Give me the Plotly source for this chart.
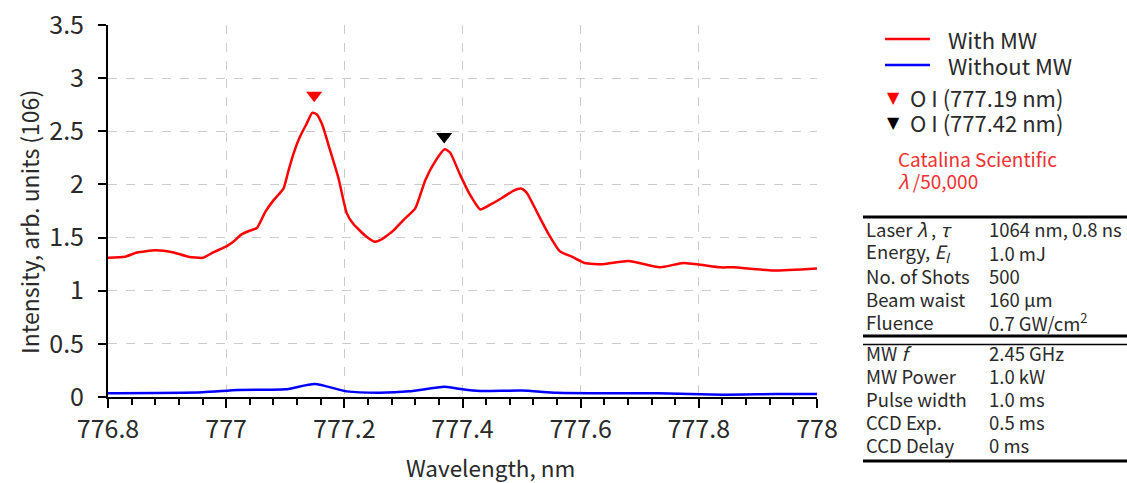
import plotly.graph_objects as go

# ---------------- data ----------------
wl_mw = [776.800, 776.829, 776.849, 776.880, 776.911, 776.936, 776.961, 776.978,
         777.001, 777.012, 777.026, 777.040, 777.052, 777.066, 777.080, 777.097,
         777.105, 777.114, 777.125, 777.136, 777.146, 777.153, 777.162, 777.176,
         777.190, 777.204, 777.215, 777.235, 777.252, 777.262, 777.283, 777.300,
         777.320, 777.337, 777.353, 777.370, 777.379, 777.396, 777.413, 777.430,
         777.447, 777.466, 777.486, 777.500, 777.509, 777.526, 777.545, 777.565,
         777.585, 777.607, 777.638, 777.681, 777.734, 777.774, 777.836, 777.858,
         777.926, 778.000]
int_mw = [1.31, 1.32, 1.36, 1.38, 1.36, 1.32, 1.31, 1.36,
          1.42, 1.46, 1.53, 1.565, 1.59, 1.74, 1.85, 1.96,
          2.12, 2.29, 2.45, 2.57, 2.675, 2.66, 2.57, 2.32,
          2.06, 1.73, 1.63, 1.52, 1.46, 1.48, 1.565, 1.665,
          1.775, 2.04, 2.21, 2.33, 2.30, 2.09, 1.90, 1.765,
          1.81, 1.87, 1.94, 1.96, 1.92, 1.74, 1.54, 1.37,
          1.32, 1.26, 1.25, 1.28, 1.22, 1.26, 1.22, 1.22,
          1.19, 1.21]

wl_nomw = [776.80, 776.96, 777.02, 777.10, 777.15, 777.204, 777.26, 777.31, 777.37,
           777.40, 777.43, 777.50, 777.56, 777.645, 777.73, 777.84, 777.93, 778.00]
int_nomw = [0.035, 0.044, 0.066, 0.072, 0.122, 0.053, 0.040, 0.053, 0.097,
            0.072, 0.056, 0.060, 0.040, 0.035, 0.035, 0.022, 0.028, 0.028]

peak1_x = [777.149]
peak1_y = [2.84]
peak2_x = [777.369]
peak2_y = [2.45]

x_ticks = [776.8, 777.0, 777.2, 777.4, 777.6, 777.8, 778.0]
x_tick_labels = ["776.8", "777", "777.2", "777.4", "777.6", "777.8", "778"]
y_ticks = [0, 0.5, 1, 1.5, 2, 2.5, 3, 3.5]
y_tick_labels = ["0", "0.5", "1", "1.5", "2", "2.5", "3", "3.5"]

legend_lines = ["With MW", "Without MW"]
legend_marks = ["O I (777.19 nm)", "O I (777.42 nm)"]

table_group1 = [("Laser <i>λ</i> , <i>τ</i>", "1064 nm, 0.8 ns"),
                ("Energy, <i>E</i><sub><i>l</i></sub>", "1.0 mJ"),
                ("No. of Shots", "500"),
                ("Beam waist", "160 μm"),
                ("Fluence", "0.7 GW/cm<sup>2</sup>")]
table_group2 = [("MW <i>f</i>", "2.45 GHz"),
                ("MW Power", "1.0 kW"),
                ("Pulse width", "1.0 ms"),
                ("CCD Exp.", "0.5 ms"),
                ("CCD Delay", "0 ms")]

# ---------------- layout geometry ----------------
W, H = 1127, 483
L, R, T, B = 108, 310, 25, 86
PW, PH = W - L - R, H - T - B
FONT = "Noto Sans CJK JP, Source Sans Pro, Liberation Sans, sans-serif"
TXT = "#2a2a2a"
RED = "#ff0000"
BLUE = "#0000ff"


def px(x):
    return (x - L) / PW


def py(y):
    return (H - B - y) / PH


fig = go.Figure()
fig.add_trace(go.Scatter(x=wl_mw, y=int_mw, mode="lines",
                         line=dict(color=RED, width=2.5, shape="spline", smoothing=0.5),
                         showlegend=False, hoverinfo="skip"))
fig.add_trace(go.Scatter(x=wl_nomw, y=int_nomw, mode="lines",
                         line=dict(color=BLUE, width=2.5, shape="spline", smoothing=0.6),
                         showlegend=False, hoverinfo="skip"))
fig.add_trace(go.Scatter(x=peak1_x, y=peak1_y, mode="markers",
                         marker=dict(symbol="triangle-down", size=14, color=RED),
                         showlegend=False, hoverinfo="skip"))
fig.add_trace(go.Scatter(x=peak2_x, y=peak2_y, mode="markers",
                         marker=dict(symbol="triangle-down", size=14, color="black"),
                         showlegend=False, hoverinfo="skip"))

shapes = []
annotations = []

# legend: lines
for i, (name, col) in enumerate(zip(legend_lines, [RED, BLUE])):
    yy = 39 + i * 26
    shapes.append(dict(type="line", xref="paper", yref="paper",
                       x0=px(885), x1=px(930), y0=py(yy), y1=py(yy),
                       line=dict(color=col, width=2.5)))
    annotations.append(dict(xref="paper", yref="paper", x=px(946), y=py(yy),
                            text=name, showarrow=False, xanchor="left", yanchor="middle",
                            font=dict(size=22, color=TXT, family=FONT)))
# legend: markers
for i, (name, col) in enumerate(zip(legend_marks, [RED, "black"])):
    yy = 97 + i * 25
    annotations.append(dict(xref="paper", yref="paper", x=px(893), y=py(yy),
                            text="▼", showarrow=False, xanchor="center", yanchor="middle",
                            font=dict(size=16, color=col, family="DejaVu Sans")))
    annotations.append(dict(xref="paper", yref="paper", x=px(908), y=py(yy),
                            text=name, showarrow=False, xanchor="left", yanchor="middle",
                            font=dict(size=22, color=TXT, family=FONT)))
annotations.append(dict(xref="paper", yref="paper", x=px(896), y=py(158),
                        text="Catalina Scientific", showarrow=False, xanchor="left",
                        yanchor="middle", font=dict(size=19, color="#f03030", family=FONT)))
annotations.append(dict(xref="paper", yref="paper", x=px(896), y=py(181),
                        text="<i>λ</i> /50,000", showarrow=False, xanchor="left",
                        yanchor="middle", font=dict(size=19, color="#f03030", family=FONT)))

# table
for yy, wdt in [(217, 3), (336, 3), (344.5, 1.5), (461, 3)]:
    shapes.append(dict(type="line", xref="paper", yref="paper",
                       x0=px(863), x1=px(1127), y0=py(yy), y1=py(yy),
                       line=dict(color="black", width=wdt)))
rows_y1 = [229, 252.5, 276, 299, 322]
rows_y2 = [353, 376, 399, 422, 445]
for rows, ys in [(table_group1, rows_y1), (table_group2, rows_y2)]:
    for (k, v), yy in zip(rows, ys):
        annotations.append(dict(xref="paper", yref="paper", x=px(864), y=py(yy),
                                text=k, showarrow=False, xanchor="left", yanchor="middle",
                                font=dict(size=18.5, color=TXT, family=FONT)))
        annotations.append(dict(xref="paper", yref="paper", x=px(987), y=py(yy),
                                text=v, showarrow=False, xanchor="left", yanchor="middle",
                                font=dict(size=18.5, color=TXT, family=FONT)))

# axis titles
annotations.append(dict(xref="paper", yref="paper", x=px(490), y=py(467),
                        text="Wavelength, nm", showarrow=False, xanchor="center",
                        yanchor="middle", font=dict(size=22.5, color=TXT, family=FONT)))
annotations.append(dict(xref="paper", yref="paper", x=px(29), y=py(222),
                        text="Intensity, arb. units (106)", showarrow=False, textangle=-90,
                        xanchor="center", yanchor="middle",
                        font=dict(size=23, color=TXT, family=FONT)))

fig.update_layout(
    width=W, height=H,
    margin=dict(l=L, r=R, t=T, b=B, pad=0, autoexpand=False),
    paper_bgcolor="white", plot_bgcolor="white",
    font=dict(family=FONT, color=TXT),
    shapes=shapes, annotations=annotations,
    showlegend=False, hovermode=False,
)
fig.update_xaxes(range=[776.8, 778.0], tickvals=x_ticks, ticktext=x_tick_labels,
                 showline=True, linecolor="black", linewidth=2,
                 ticks="outside", ticklen=9, tickwidth=2, tickcolor="black",
                 minor=dict(dtick=0.04, tick0=776.8, ticks="outside", ticklen=6,
                            tickwidth=2, tickcolor="black", showgrid=False),
                 showgrid=True, gridcolor="#cccccc", griddash="dash", gridwidth=1,
                 tickfont=dict(size=25, color=TXT, family=FONT), zeroline=False,
                 automargin=False)
fig.update_yaxes(range=[0, 3.5], tickvals=y_ticks, ticktext=y_tick_labels,
                 showline=True, linecolor="black", linewidth=2,
                 ticks="outside", ticklen=8, tickwidth=2, tickcolor="black",
                 ticklabelstandoff=9,
                 showgrid=True, gridcolor="#cccccc", griddash="dash", gridwidth=1,
                 tickfont=dict(size=25, color=TXT, family=FONT), zeroline=False,
                 automargin=False)

fig.write_html("out.html", config={"displayModeBar": False, "staticPlot": True},
               post_script="document.body.style.margin='0px';document.body.style.overflow='hidden';")
